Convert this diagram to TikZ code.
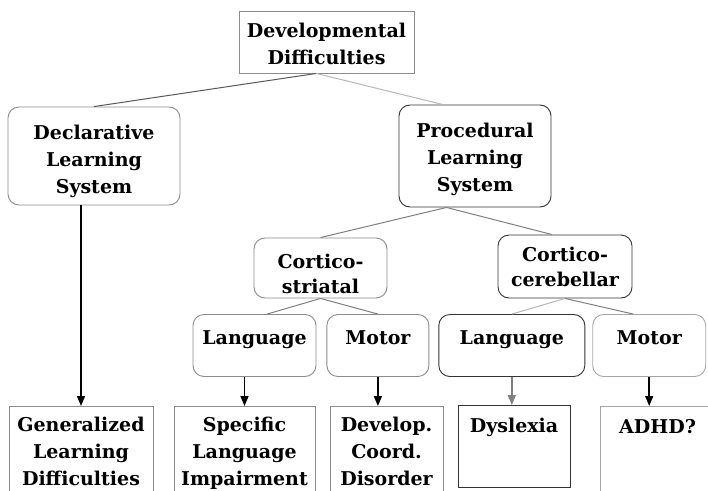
\documentclass[tikz,border=0pt]{standalone}
\usepackage{fontspec}
\setmainfont{DejaVu Serif}
\usetikzlibrary{positioning,arrows.meta}
\definecolor{boxgray}{gray}{0.55}
\definecolor{boxlight}{gray}{0.65}
\definecolor{boxdark}{gray}{0.2}
\definecolor{linedark}{gray}{0.35}
\definecolor{linemid}{gray}{0.5}
\definecolor{linelight}{gray}{0.72}

\begin{document}
\begin{tikzpicture}[x=1pt,y=-1pt,
    every node/.style={font=\bfseries\fontsize{19}{27}\selectfont,
      align=center, inner sep=0pt, text depth=4.4pt},
    tight/.style={font=\bfseries\fontsize{19}{25}\selectfont},
    sqbox/.style={draw=#1, line width=0.9pt, rectangle},
    rndbox/.style={draw=#1, line width=0.9pt, rectangle, rounded corners=11pt},
    kind/.style={rndbox=#1, minimum height=62pt, text height=13pt, text depth=15.4pt},
    outcome/.style={sqbox=#1, anchor=north, inner ysep=10pt, text height=69pt,
      text depth=30pt},
    link/.style={draw=#1, line width=1pt},
    arr/.style={draw=#1, line width=1.6pt, -{Triangle[length=10pt,width=8pt]}}]
  \fill[white] (0,0) rectangle (708,490);
  \useasboundingbox (0,0) rectangle (708,490);
  \clip (0,0) rectangle (708,490);

  % top of the tree
  \node[sqbox=boxgray, minimum width=175pt, minimum height=62pt, text height=50pt]
    (dd) at (326.5,42) {Developmental\\Difficulties};
  \node[rndbox=boxgray, minimum width=172pt, minimum height=98pt, text height=79pt]
    (dls) at (94,156) {Declarative\\Learning\\System};
  \node[rndbox=boxdark, minimum width=152pt, minimum height=102pt, text height=75pt]
    (pls) at (475,156) {Procedural\\Learning\\System};

  % the two circuits
  \node[rndbox=boxgray, tight, minimum width=133pt, minimum height=60pt,
    text height=55pt] (cs) at (320.5,268) {Cortico-\\striatal};
  \node[rndbox=boxdark, tight, minimum width=134pt, minimum height=63pt,
    text height=44pt] (cc) at (565,266.5) {Cortico-\\cerebellar};

  % language / motor row
  \node[kind=boxgray, minimum width=123pt] (csl) at (254.5,345.5) {Language};
  \node[kind=boxgray, minimum width=102pt, right=10pt of csl] (csm) {Motor};
  \node[kind=boxdark, minimum width=146pt, right=9pt of csm] (ccl) {Language};
  \node[kind=boxlight, minimum width=113pt, right=7pt of ccl] (ccm) {Motor};

  % outcomes
  \node[outcome=boxgray, minimum width=144pt] (gld) at (81,406)
    {Generalized\\Learning\\Difficulties};
  \node[outcome=boxgray, minimum width=141pt] (sli) at (244.5,406)
    {Specific\\Language\\Impairment};
  \node[outcome=boxgray, minimum width=113pt] (dcd) at (386.5,406)
    {Develop.\\Coord.\\Disorder};
  \node[outcome=boxdark, minimum width=112pt, text height=17pt, text depth=45pt]
    (dys) at (514,405) {Dyslexia};
  \node[outcome=boxlight, minimum width=115pt, text height=17pt, text depth=70pt]
    (adhd) at (657.5,406) {ADHD?};

  \draw[link=linedark] (dd.252) -- (dls.north);
  \draw[link=linelight] (dd.252) -- (pls.122);
  \draw[link=linemid] (pls.241) -- (cs.north);
  \draw[link=linemid] (pls.241) -- (cc.112);
  \draw[link=linemid] (cs.south) -- (csl.68);
  \draw[link=linemid] (cs.south) -- (csm.north);
  \draw[link=linelight] (cc.south) -- (ccl.north);
  \draw[link=linemid] (cc.south) -- (ccm.117);

  \draw[arr=black] (dls.south -| gld.north) -- (gld.north);
  \draw[arr=black] (csl.south -| sli.north) -- (sli.north);
  \draw[arr=black] (csm.south) -- (csm.south |- dcd.north);
  \draw[arr=linemid] (ccl.south) -- (ccl.south |- dys.north);
  \draw[arr=black] (ccm.south) -- (ccm.south |- adhd.north);
\end{tikzpicture}
\end{document}
